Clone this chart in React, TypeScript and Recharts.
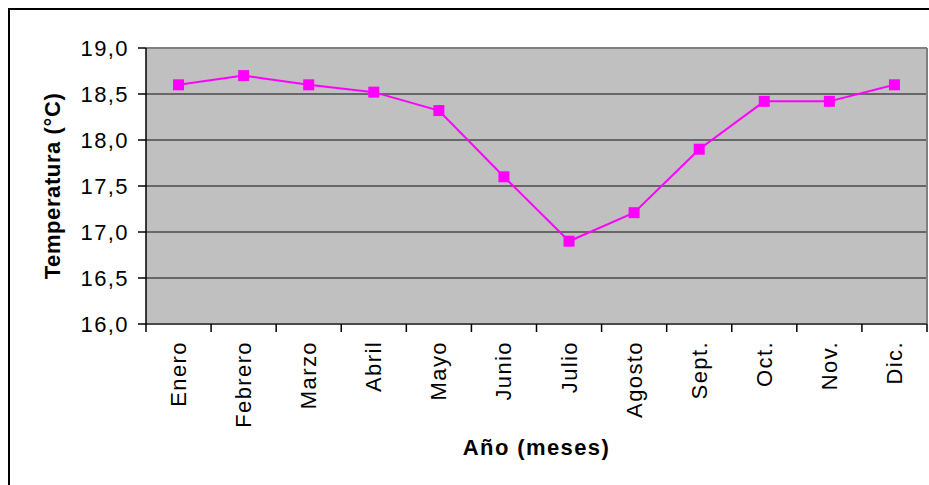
import {
  CartesianGrid,
  Line,
  LineChart,
  ReferenceLine,
  XAxis,
  YAxis,
} from "recharts";

const months = [
  "Enero",
  "Febrero",
  "Marzo",
  "Abril",
  "Mayo",
  "Junio",
  "Julio",
  "Agosto",
  "Sept.",
  "Oct.",
  "Nov.",
  "Dic.",
];
const temps = [18.6, 18.7, 18.6, 18.52, 18.32, 17.6, 16.9, 17.21, 17.9, 18.42, 18.42, 18.6];
const yTicks = [16, 16.5, 17, 17.5, 18, 18.5, 19];
const boundaryTicks = months.map((_, i) => i).concat(months.length);

// slot = middle of each month's band on the boundary (0..12) axis
const data = months.map((month, i) => ({ month, slot: i + 0.5, temp: temps[i] }));

const font = "'Liberation Sans', Arial, sans-serif";
const pink = "#FF00FF";

const fmt = (v: number) => v.toFixed(1).replace(".", ",");

function MonthTick(props: any) {
  const { x, y, payload } = props;
  const ty = y + 16;
  return (
    <text
      x={x}
      y={ty}
      transform={`rotate(-90 ${x} ${ty})`}
      textAnchor="end"
      dominantBaseline="central"
      fontSize={22}
      letterSpacing={1.4}
      fontFamily={font}
      fill="#000"
    >
      {payload.value}
    </text>
  );
}

function YTitle(props: any) {
  const vb = props.viewBox || {};
  const cx = 42;
  const cy = vb.y + vb.height / 2;
  return (
    <text
      x={cx}
      y={cy}
      transform={`rotate(-90 ${cx} ${cy})`}
      textAnchor="middle"
      dominantBaseline="central"
      fontSize={22}
      letterSpacing={0.6}
      fontWeight="bold"
      fontFamily={font}
      fill="#000"
    >
      Temperatura (°C)
    </text>
  );
}

function Square(props: any) {
  const { cx, cy, index } = props;
  return <rect key={index} x={cx - 5.5} y={cy - 5.5} width={11} height={11} fill={pink} />;
}

export default function App() {
  return (
    <div
      style={{
        position: "fixed",
        left: 8,
        top: 8,
        width: 921,
        height: 477,
        boxSizing: "border-box",
        borderTop: "2px solid #000",
        borderLeft: "2px solid #000",
        background: "#fff",
        overflow: "hidden",
      }}
    >
      <LineChart
        width={919}
        height={475}
        data={data}
        margin={{ top: 38, right: 2, left: 0, bottom: 0 }}
      >
        <CartesianGrid vertical={false} fill="#C0C0C0" stroke="#4a4a4a" strokeWidth={1.5} />
        <XAxis
          type="number"
          dataKey="slot"
          domain={[0, 12]}
          allowDataOverflow
          ticks={boundaryTicks}
          interval={0}
          tickFormatter={() => ""}
          tickSize={8}
          height={1}
          axisLine={{ stroke: "#4a4a4a", strokeWidth: 2 }}
          tickLine={{ stroke: "#000", strokeWidth: 1.5 }}
        />
        <XAxis
          xAxisId="cat"
          dataKey="month"
          scale="band"
          height={160}
          interval={0}
          tickLine={false}
          axisLine={false}
          tickSize={0}
          tickMargin={0}
          tick={<MonthTick />}
          label={{
            value: "Año (meses)",
            position: "insideBottom",
            offset: 30,
            fontSize: 22,
            letterSpacing: 1.4,
            fontWeight: "bold",
            fontFamily: font,
            fill: "#000",
          }}
        />
        <YAxis
          width={136}
          domain={[16, 19]}
          ticks={yTicks}
          tickFormatter={fmt}
          tickSize={8}
          tickMargin={9}
          axisLine={{ stroke: "#000", strokeWidth: 1.5 }}
          tickLine={{ stroke: "#000", strokeWidth: 1.5 }}
          tick={{ fontSize: 22, letterSpacing: 1.4, fontFamily: font, fill: "#000" }}
          label={<YTitle />}
        />
        <ReferenceLine y={19} stroke="#808080" strokeWidth={2} />
        <ReferenceLine x={12} stroke="#808080" strokeWidth={2} />
        <Line
          xAxisId="cat"
          dataKey="temp"
          stroke={pink}
          strokeWidth={2}
          dot={Square}
          activeDot={false}
          isAnimationActive={false}
        />
      </LineChart>
    </div>
  );
}
